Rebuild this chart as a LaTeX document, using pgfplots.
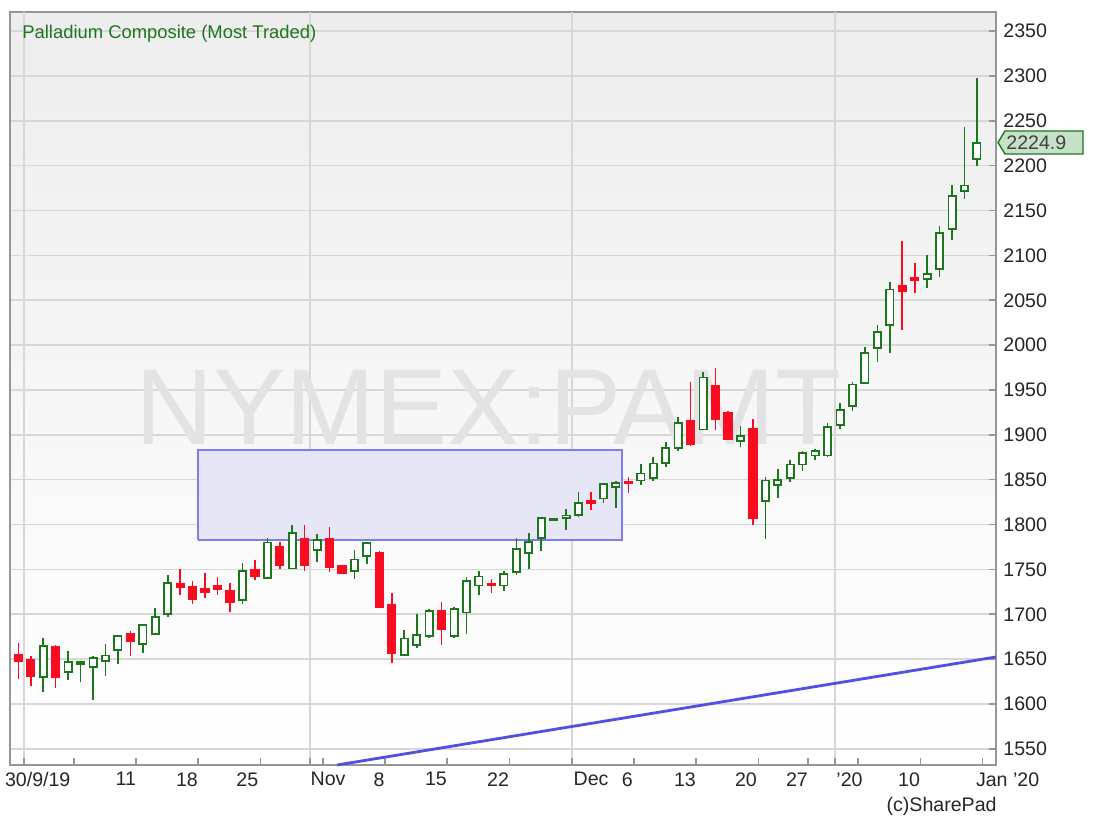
\documentclass[border=0pt]{standalone}
\usepackage{pgfplots}
\pgfplotsset{compat=1.18}
\usepackage{pgfplotstable}
\usepackage{fontspec}
\setmainfont{Liberation Sans}
\definecolor{cgreen}{RGB}{28,118,28}
\definecolor{cred}{RGB}{250,12,32}
\definecolor{boxfill}{RGB}{230,230,246}
\definecolor{boxdraw}{RGB}{125,125,235}
\definecolor{trend}{RGB}{80,80,225}
\definecolor{tagfill}{RGB}{198,226,198}
\definecolor{gridc}{RGB}{215,215,215}
\definecolor{axc}{RGB}{150,150,150}

\pgfplotstableread{
i O H L C
2 1630 1673 1613 1665
4 1636 1659 1627 1647
5 1645 1648 1624 1647
6 1641 1654 1605 1651
7 1648 1667 1631 1654
8 1660 1677 1645 1676
10 1667 1688 1657 1688
11 1678 1707 1677 1697
12 1700 1744 1697 1735
18 1716 1757 1712 1748
20 1740 1785 1739 1780
22 1751 1799 1750 1791
24 1772 1790 1758 1783
27 1748 1772 1739 1761
28 1765 1780 1756 1779
31 1655 1683 1654 1673
32 1666 1700 1662 1677
33 1676 1706 1674 1704
35 1676 1708 1673 1706
36 1702 1742 1678 1737
37 1732 1748 1722 1742
39 1732 1748 1726 1745
40 1747 1785 1744 1773
41 1768 1791 1751 1781
42 1785 1808 1771 1807
43 1805 1807 1804 1806
44 1807 1817 1794 1810
45 1811 1836 1808 1824
47 1829 1846 1824 1845
48 1842 1848 1819 1846
50 1849 1868 1844 1857
51 1852 1875 1849 1868
52 1869 1892 1864 1885
53 1885 1920 1882 1913
55 1906 1970 1906 1964
58 1893 1910 1886 1899
60 1826 1853 1784 1849
61 1844 1862 1830 1850
62 1852 1872 1847 1867
63 1867 1882 1860 1880
64 1877 1884 1872 1882
65 1877 1913 1875 1909
66 1911 1935 1907 1928
67 1932 1959 1927 1956
68 1958 1998 1957 1991
69 1997 2022 1981 2015
70 2022 2070 1991 2062
73 2074 2100 2064 2079
74 2085 2133 2076 2125
75 2129 2178 2117 2166
76 2172 2243 2163 2178
77 2207 2298 2200 2225
}\greendata

\pgfplotstableread{
i O H L C
0 1655 1668 1628 1648
1 1649 1654 1620 1631
3 1664 1666 1618 1630
9 1678 1681 1654 1670
13 1734 1750 1721 1730
14 1731 1737 1712 1717
15 1728 1746 1718 1725
16 1732 1741 1721 1728
17 1726 1735 1703 1714
19 1750 1761 1738 1743
21 1775 1780 1750 1755
23 1784 1799 1748 1755
25 1784 1797 1747 1753
26 1754 1755 1745 1746
29 1768 1771 1707 1708
30 1710 1724 1646 1657
34 1704 1714 1666 1683
38 1734 1739 1724 1732
46 1826 1836 1816 1824
49 1847 1853 1835 1846
54 1916 1959 1887 1890
56 1955 1975 1905 1918
57 1925 1927 1894 1895
59 1907 1918 1799 1807
71 2066 2116 2017 2060
72 2075 2092 2058 2073
}\reddata

\pgfplotsset{
  base/.style={
    scale only axis, width=493pt, height=376.5pt,
    xmin=-0.67, xmax=78.53, ymin=1532, ymax=2371.3,
    at={(5pt,33.5pt)}, anchor=south west,
  }
}

\begin{document}
\begin{tikzpicture}
\useasboundingbox (0,0) rectangle (547pt,416pt);
\begin{axis}[base,
  axis background/.style={shade, top color=black!7, bottom color=white},
  axis line style={axc, line width=1pt},
  ytick={1550,1600,...,2350},
  ytick pos=right, yticklabel pos=right,
  yticklabel style={anchor=west, inner sep=0pt, xshift=3.5pt, text=black!85, font=\fontsize{9.8}{11}\selectfont},
  /pgf/number format/assume math mode=true,
  /pgf/number format/1000 sep={},
  xtick={4.45,9.45,14.45,19.45,24.45,29.45,34.45,39.45,49.45,54.45,59.45,63.45,67.45,72.45,77.45},
  xticklabels={},
  xtick pos=left,
  tick align=inside,
  major tick length=3.5pt,
  tick style={axc, line width=0.8pt},
  ymajorgrids,
  grid style={gridc, line width=0.8pt},
  extra x ticks={0.45,23.45,44.45,65.6},
  extra x tick labels={},
  extra x tick style={grid=major},
  clip=false,
]
\node[anchor=base west, inner sep=0pt, text=black!11, font=\fontsize{54}{54}\selectfont] at (axis cs:9.37,1888.7) {NYMEX:PAMT};
\addplot[draw=boxdraw, fill=boxfill, line width=1pt] coordinates {(14.45,1782.5) (48.5,1782.5) (48.5,1883) (14.45,1883) (14.45,1782.5)};
\addplot[trend, line width=1.4pt] coordinates {(25.6,1532) (78.53,1652.4)};
\addplot[draw=none, mark=none, forget plot, error bars/.cd, y dir=plus, y explicit, error mark=none, error bar style={draw=cgreen, solid, line width=0.8pt}]
  table[x=i, y=L, y error expr=\thisrow{H}-\thisrow{L}] \greendata;
\addplot[draw=none, mark=none, forget plot, error bars/.cd, y dir=plus, y explicit, error mark=none, error bar style={draw=cred, solid, line width=0.8pt}]
  table[x=i, y=L, y error expr=\thisrow{H}-\thisrow{L}] \reddata;
\end{axis}

\begin{axis}[base, hide axis, ybar stacked, bar width=0.58]
\addplot[draw=none, fill=none] table[x=i, y=O] \greendata;
\addplot[draw=cgreen, fill=white, line width=0.9pt] table[x=i, y expr=\thisrow{C}-\thisrow{O}] \greendata;
\end{axis}

\begin{axis}[base, hide axis, ybar stacked, bar width=0.6]
\addplot[draw=none, fill=none] table[x=i, y=C] \reddata;
\addplot[draw=cred, fill=cred, line width=0.9pt] table[x=i, y expr=\thisrow{O}-\thisrow{C}] \reddata;
\end{axis}

% title
\node[anchor=base west, inner sep=0pt, text=cgreen, font=\fontsize{9.2}{11}\selectfont] at (11pt,396.8pt) {Palladium Composite (Most Traded)};

% x labels
\begin{scope}[every node/.style={inner sep=0pt, text=black!85, font=\fontsize{9.8}{11}\selectfont}]
\node[anchor=north east] at (35.4pt,30pt) {30/9/19};
\node[anchor=north east] at (68.2pt,30pt) {11};
\node[anchor=north east] at (99.1pt,30pt) {18};
\node[anchor=north east] at (129.3pt,30pt) {25};
\node[anchor=north west] at (155.1pt,30pt) {Nov};
\node[anchor=north east] at (192.45pt,30pt) {8};
\node[anchor=north east] at (223.6pt,30pt) {15};
\node[anchor=north east] at (254.7pt,30pt) {22};
\node[anchor=north west] at (286.6pt,30pt) {Dec};
\node[anchor=north east] at (316.6pt,30pt) {6};
\node[anchor=north east] at (348.1pt,30pt) {13};
\node[anchor=north east] at (378.6pt,30pt) {20};
\node[anchor=north east] at (404.1pt,30pt) {27};
\node[anchor=north west] at (418pt,30pt) {'20};
\node[anchor=north east] at (460.15pt,30pt) {10};
\node[anchor=north west] at (487.8pt,30pt) {Jan '20};
\node[anchor=north east] at (498.5pt,17.5pt) {(c)SharePad};
\end{scope}

% price tag
\filldraw[fill=tagfill, draw=cgreen, line width=0.7pt] (499pt,344.75pt) -- (502.5pt,350.5pt) -- (541.5pt,350.5pt) -- (541.5pt,339pt) -- (502.5pt,339pt) -- cycle;
\node[anchor=west, inner sep=0pt, text=black!75, font=\fontsize{9.8}{11}\selectfont] at (503pt,344.75pt) {2224.9};
\end{tikzpicture}
\end{document}
